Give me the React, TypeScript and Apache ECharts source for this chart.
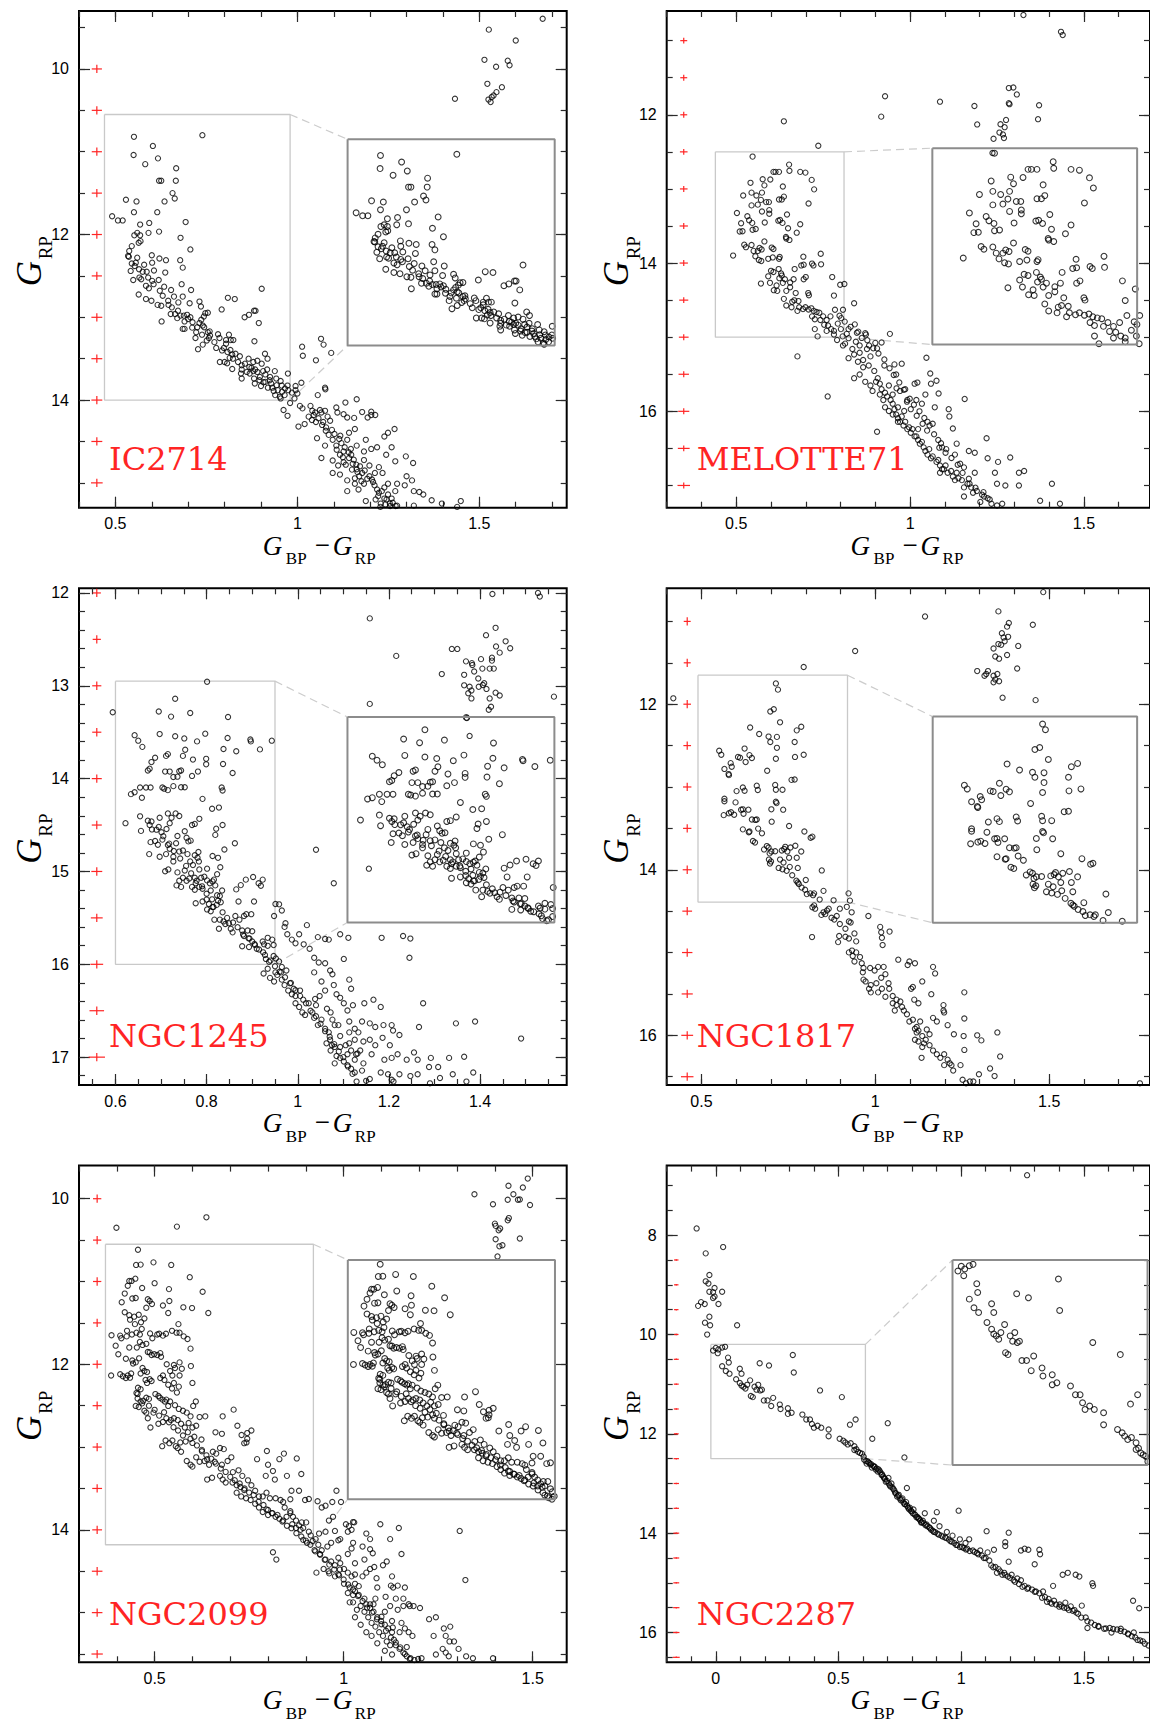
import React, { useEffect, useRef } from "react";
import * as echarts from "echarts";

type Pt = [number, number];

// ---------- cluster names ----------
const clusterNames = ["IC2714", "MELOTTE71", "NGC1245", "NGC1817", "NGC2099", "NGC2287"];

// ---------- axis ranges ----------
const xMin = [0.4, 0.3, 0.52, 0.4, 0.3, -0.2];
const xMax = [1.74, 1.69, 1.59, 1.79, 1.59, 1.77];
const yMin = [9.3, 10.6, 11.95, 10.6, 9.6, 6.6];
const yMax = [15.3, 17.3, 17.3, 16.6, 15.6, 16.6];

// ---------- tick labels (major) and minor tick steps ----------
const xMajor = [[0.5, 1, 1.5], [0.5, 1, 1.5], [0.6, 0.8, 1, 1.2, 1.4], [0.5, 1, 1.5], [0.5, 1, 1.5], [0, 0.5, 1, 1.5]];
const yMajor = [[10, 12, 14], [12, 14, 16], [12, 13, 14, 15, 16, 17], [12, 14, 16], [10, 12, 14], [8, 10, 12, 14, 16]];
const xMinorStep = [0.1, 0.1, 0.05, 0.1, 0.1, 0.1];
const yMinorStep = [0.5, 0.5, 0.2, 0.5, 0.5, 0.5];

// ---------- zoom rectangles [x0, x1, y0, y1] and inset boxes (main-plot data coords) ----------
const zoomRects = [
  [0.47, 0.98, 10.55, 14.0],
  [0.44, 0.81, 12.5, 15.0],
  [0.6, 0.95, 12.95, 16.0],
  [0.49, 0.92, 11.65, 14.39],
  [0.37, 0.92, 10.55, 14.18],
  [-0.02, 0.61, 10.2, 12.5],
];
const insetBoxes = [
  [1.138, 1.707, 10.85, 13.34],
  [1.064, 1.653, 12.45, 15.1],
  [1.109, 1.563, 13.336, 15.55],
  [1.165, 1.753, 12.15, 14.64],
  [1.011, 1.559, 10.74, 13.63],
  [0.965, 1.76, 8.5, 12.63],
];

// ---------- photometric error bars ----------
const errColorPos = [0.449, 0.349, 0.559, 0.459, 0.348, -0.161];
const errMags = [
  [10, 10.5, 11, 11.5, 12, 12.5, 13, 13.5, 14, 14.5, 15],
  [11, 11.5, 12, 12.5, 13, 13.5, 14, 14.5, 15, 15.5, 16, 16.5, 17],
  [12, 12.5, 13, 13.5, 14, 14.5, 15, 15.5, 16, 16.5, 17],
  [11, 11.5, 12, 12.5, 13, 13.5, 14, 14.5, 15, 15.5, 16, 16.5],
  [10, 10.5, 11, 11.5, 12, 12.5, 13, 13.5, 14, 14.5, 15, 15.5],
  [8.5, 9, 9.5, 10, 10.5, 11, 11.5, 12, 12.5, 13, 13.5, 14, 14.5, 15, 15.5, 16, 16.5],
];
const errColor = [
  [0.014, 0.014, 0.014, 0.014, 0.014, 0.014, 0.015, 0.015, 0.015, 0.015, 0.016],
  [0.01, 0.01, 0.01, 0.011, 0.011, 0.012, 0.012, 0.013, 0.014, 0.015, 0.016, 0.017, 0.018],
  [0.009, 0.009, 0.01, 0.01, 0.011, 0.011, 0.012, 0.013, 0.014, 0.016, 0.018],
  [0.01, 0.01, 0.011, 0.011, 0.012, 0.012, 0.013, 0.014, 0.015, 0.016, 0.017, 0.018],
  [0.011, 0.011, 0.011, 0.011, 0.012, 0.012, 0.012, 0.013, 0.013, 0.014, 0.014, 0.015],
  [0.009, 0.009, 0.009, 0.009, 0.01, 0.01, 0.01, 0.01, 0.011, 0.011, 0.011, 0.012, 0.012, 0.012, 0.013, 0.013, 0.014],
];
const errMagHalf = [0.05, 0.04, 0.045, 0.05, 0.05, 0.015];

// ---------- CMD data: [G_BP - G_RP, G_RP] ----------
const ic2714: Pt[] = [
  [1.526,9.525],[1.6,9.657],[1.674,9.393],[1.514,9.89],[1.578,9.9],[1.583,9.956],[1.546,9.974],[1.522,10.18],[1.562,10.22],[1.547,10.28],[1.539,10.32],[1.534,10.34],[1.525,10.37],[1.531,10.4],[1.433,10.36],
  [0.551,10.82],[0.739,10.8],[0.603,10.93],[0.55,11.04],[0.617,11.08],[0.582,11.15],[0.667,11.2],[0.62,11.35],[0.626,11.35],[0.666,11.35],[0.657,11.5],[0.663,11.565],[0.635,11.6],[0.529,11.58],[0.558,11.6],[0.551,11.73],[0.615,11.73],[0.491,11.78],[0.507,11.83],[0.52,11.83],[0.568,11.88],[0.593,11.86],[0.693,11.85],[0.62,11.965],[0.591,11.98],[0.56,11.98],[0.568,12.01],[0.552,12.01],[0.569,12.08],[0.564,12.1],[0.679,12.04],[0.545,12.14],[0.706,12.18],[0.538,12.2],[0.535,12.26],[0.537,12.27],[0.56,12.28],[0.6,12.25],[0.621,12.29],[0.639,12.31],[0.678,12.31],[0.545,12.35],[0.556,12.34],[0.579,12.365],[0.601,12.34],[0.685,12.4],[0.542,12.44],[0.586,12.45],[0.606,12.435],[0.637,12.46],[0.549,12.55],[0.566,12.52],[0.571,12.54],[0.601,12.56],[0.619,12.55],[0.682,12.6],[0.584,12.62],[0.592,12.65],[0.634,12.63],[0.708,12.67],[0.564,12.725],[0.653,12.67],[0.661,12.75],[0.685,12.75],[0.584,12.78],[0.599,12.8],[0.616,12.85],[0.626,12.86],[0.646,12.85],[0.673,12.82],[0.704,12.83],[0.731,12.81],[0.735,12.87],[0.902,12.655],[0.809,12.765],[0.828,12.78],[0.792,12.905],[0.881,12.92],[0.885,12.92],[0.652,12.96],[0.664,12.96],[0.679,12.98],[0.697,12.97],[0.706,13.0],[0.67,13.01],[0.69,13.05],[0.627,13.05],[0.747,12.95],[0.743,12.99],[0.754,12.945],[0.736,13.03],[0.855,13.0],[0.867,12.97],[0.894,13.07],[0.685,13.14],[0.69,13.14],[0.711,13.125],[0.731,13.07],[0.74,13.1],[0.744,13.12],[0.722,13.18],[0.72,13.25],[0.738,13.21],[0.754,13.18],[0.759,13.17],[0.782,13.205],[0.812,13.21],[0.804,13.275],[0.817,13.275],[0.824,13.275],[0.727,13.385],[0.74,13.33],[0.751,13.28],[0.757,13.25],[0.882,13.29],[0.777,13.37],[0.804,13.32],[0.793,13.4],[0.816,13.395],[0.821,13.45],[0.814,13.49],[0.807,13.555],[0.823,13.5],[0.787,13.54],[0.8,13.54],[0.911,13.44],[0.918,13.5],[0.837,13.54],[0.847,13.58],[0.866,13.5],[0.879,13.54],[0.89,13.525],[0.874,13.61],[0.902,13.56],[0.821,13.625],[0.847,13.63],[0.861,13.66],[0.869,13.68],[0.879,13.65],[0.89,13.66],[0.906,13.65],[0.917,13.63],[0.938,13.65],[0.845,13.68],[0.847,13.74],[0.881,13.74],[0.897,13.72],[0.912,13.69],[0.925,13.72],[0.942,13.74],[0.974,13.68],[0.883,13.8],[0.907,13.785],[0.924,13.76],[0.954,13.77],[0.957,13.825],[0.973,13.825],[0.9,13.83],[0.931,13.85],[0.935,13.89],[0.919,13.85],[0.946,13.88],[0.975,13.88],[0.965,13.94],[0.995,13.88],
  [0.76,13.22],[0.772,13.3],[0.786,13.25],[0.798,13.37],[0.808,13.42],[0.83,13.44],[0.842,13.47],[0.856,13.56],[0.868,13.6],[0.884,13.63],[0.896,13.76],[0.912,13.78],[0.928,13.8],[0.943,13.82],[0.958,13.9],[0.966,13.86],[0.952,13.96],[0.939,13.94],
  [0.575,12.45],[0.59,12.52],[0.605,12.6],[0.622,12.68],[0.63,12.74],[0.645,12.8],[0.655,12.88],[0.672,12.92],[0.688,12.98],[0.7,13.02],[0.712,13.06],[0.725,13.12],[0.553,12.38],[0.565,12.42],
  [1.013,13.355],[1.015,13.465],[1.065,13.26],[1.072,13.33],[1.093,13.43],[1.051,13.52],[1.011,13.79],[0.995,13.83],[0.985,13.91],[1.0,13.92],[0.954,13.98],[0.962,14.12],[0.973,14.19],[0.98,14.035],[0.992,13.98],[1.007,14.07],[1.014,14.1],[1.003,14.32],[1.02,14.29],[1.056,13.94],[1.076,13.85],[1.077,13.87],[1.036,14.07],[1.041,14.13],[1.049,14.15],[1.066,14.15],[1.076,14.13],[1.107,14.09],[1.132,14.03],[1.163,13.99],[1.11,14.15],[1.127,14.17],[1.137,14.21],[1.156,14.215],[1.178,14.145],[1.203,14.14],[1.214,14.18],[1.193,14.21],[1.051,14.265],[1.071,14.265],[1.031,14.2],[1.054,14.46],[1.078,14.37],[1.086,14.42],[1.097,14.48],[1.107,14.55],[1.076,14.55],[1.066,14.7],[1.097,14.73],[1.117,14.66],[1.127,14.62],[1.137,14.48],[1.147,14.59],[1.163,14.55],[1.097,14.88],[1.112,14.79],[1.127,14.75],[1.142,14.7],[1.152,14.77],[1.163,14.835],[1.178,14.88],[1.198,14.92],[1.213,14.88],[1.117,14.9],[1.137,14.97],[1.158,15.01],[1.168,15.08],[1.183,15.01],[1.208,14.99],[1.219,15.08],[1.239,15.055],[1.249,15.14],[1.259,15.19],[1.269,15.1],[1.274,15.01],[1.295,15.03],[1.3,14.92],[1.315,14.97],[1.318,14.76],[1.298,14.68],[1.269,14.74],[1.259,14.57],[1.244,14.66],[1.239,14.44],[1.219,14.57],[1.249,14.395],[1.267,14.35],[1.203,14.59],[1.188,15.22],[1.229,15.25],[1.239,15.19],[1.254,15.25],[1.274,15.275],[1.32,15.1],[1.335,15.11],[1.346,15.14],[1.369,15.21],[1.397,15.25],[1.449,15.22],[1.439,15.29],[1.32,15.275],[1.137,15.1],[1.158,14.945],[1.198,14.79],[1.224,14.81],[1.234,14.88],[1.183,14.725],[1.203,14.18],[1.224,15.12],[1.249,15.01],[1.183,14.62],[1.188,14.48],[1.158,14.35],[1.142,14.395],
  [1.045,14.18],[1.058,14.22],[1.062,14.12],[1.083,14.2],[1.09,14.25],[1.068,14.3],[1.079,14.33],[1.095,14.36],[1.04,14.24],[1.102,14.41],[1.115,14.47],[1.121,14.52],[1.108,14.6],[1.13,14.57],[1.141,14.63],[1.125,14.69],[1.148,14.66],[1.118,14.43],[1.133,14.78],[1.155,14.72],[1.162,14.78],[1.172,14.8],[1.17,14.92],[1.185,14.85],[1.192,14.95],[1.176,14.98],[1.205,14.96],[1.15,14.84],[1.165,14.87],[1.212,15.03],[1.222,15.16],[1.232,15.1],[1.245,15.2],[1.255,15.28],[1.262,15.24],[1.215,15.2],[1.228,15.29],[1.27,15.28],[1.242,15.26],
];

const melotte71: Pt[] = [
  [1.326,10.655],[1.434,10.881],[1.439,10.925],[0.928,11.75],[1.086,11.823],[1.185,11.882],[1.284,11.64],[1.297,11.632],[1.307,11.725],[1.284,11.843],[1.286,11.857],[1.371,11.872],[0.917,12.025],[1.193,12.13],[1.276,12.069],[1.26,12.127],[1.272,12.167],[1.257,12.24],[1.267,12.265],[1.27,12.314],[1.24,12.324],[1.368,12.059],[1.237,12.515],[0.637,12.088],[0.736,12.417],
  [0.547,12.564],[0.652,12.672],[0.613,12.77],[0.607,12.77],[0.623,12.77],[0.684,12.77],[0.699,12.78],[0.653,12.756],[0.598,12.873],[0.541,12.918],[0.576,12.869],[0.581,12.952],[0.717,12.878],[0.634,12.967],[0.724,13.006],[0.52,13.089],[0.544,13.05],[0.574,13.05],[0.558,13.089],[0.571,13.148],[0.586,13.178],[0.623,13.143],[0.631,13.143],[0.637,13.104],[0.708,13.197],[0.544,13.222],[0.562,13.212],[0.594,13.178],[0.502,13.325],[0.574,13.305],[0.595,13.286],[0.595,13.335],[0.646,13.345],[0.532,13.369],[0.537,13.423],[0.514,13.463],[0.546,13.458],[0.582,13.453],[0.621,13.428],[0.626,13.418],[0.633,13.458],[0.684,13.477],[0.51,13.575],[0.518,13.571],[0.547,13.551],[0.556,13.541],[0.649,13.531],[0.674,13.59],[0.643,13.649],[0.644,13.669],[0.653,13.688],[0.523,13.752],[0.528,13.786],[0.544,13.757],[0.581,13.708],[0.55,13.836],[0.555,13.909],[0.562,13.836],[0.567,13.796],[0.573,13.816],[0.602,13.791],[0.607,13.811],[0.491,13.899],[0.565,13.958],[0.572,13.973],[0.592,13.943],[0.605,13.924],[0.623,13.943],[0.625,13.919],[0.693,13.914],[0.718,14.007],[0.722,14.032],[0.687,14.032],[0.694,14.022],[0.743,13.875],[0.744,14.017],[0.6,14.105],[0.592,14.179],[0.607,14.12],[0.622,14.081],[0.629,14.14],[0.631,14.169],[0.624,14.204],[0.64,14.218],[0.668,14.081],[0.571,14.277],[0.597,14.267],[0.616,14.302],[0.634,14.267],[0.655,14.263],[0.665,14.218],[0.694,14.218],[0.7,14.189],[0.608,14.366],[0.618,14.375],[0.644,14.375],[0.655,14.326],[0.671,14.405],[0.707,14.405],[0.709,14.434],[0.776,14.189],[0.799,14.292],[0.811,14.282],[0.781,14.439],[0.637,14.483],[0.661,14.523],[0.667,14.503],[0.679,14.513],[0.644,14.572],[0.659,14.596],[0.681,14.596],[0.692,14.621],[0.699,14.596],[0.708,14.626],[0.716,14.611],[0.723,14.645],[0.731,14.66],[0.676,14.645],[0.718,14.719],[0.726,14.758],[0.742,14.768],[0.753,14.832],[0.764,14.842],[0.773,14.891],[0.726,14.891],[0.734,14.989],[0.76,14.915],[0.781,14.915],[0.802,14.743],[0.807,14.63],[0.839,14.542],[0.801,14.891],[0.818,14.955],[0.806,14.989],
  [0.841,14.827],[0.851,14.925],[0.871,14.945],[0.873,14.964],[0.9,15.077],[0.918,15.072],[0.905,15.151],[0.942,14.955],[0.882,15.111],[0.79,15.038],[0.807,15.111],[0.834,15.16],[0.839,15.234],[0.855,15.21],[0.823,15.283],[0.85,15.332],[0.865,15.406],[0.839,15.553],[0.855,15.504],[0.871,15.602],[0.886,15.651],[0.892,15.725],[0.907,15.553],[0.913,15.774],[0.923,15.848],[0.928,15.946],[0.939,15.995],[0.95,15.897],[0.96,16.044],[0.971,16.142],[0.981,16.191],[0.992,16.24],[1.002,16.289],[1.018,16.338],[1.028,16.436],[1.039,16.486],[1.05,16.584],[1.06,16.633],[1.076,16.682],[1.086,16.731],[1.097,16.78],[1.108,16.829],[1.123,16.879],[1.134,16.829],[1.149,16.928],[1.165,16.977],[1.176,17.026],[1.192,17.075],[1.207,17.124],[1.223,17.173],[1.234,17.246],[1.25,17.271],[1.265,17.246],[1.202,17.222],
  [0.865,15.308],[0.881,15.382],[0.897,15.455],[0.902,15.602],[0.918,15.701],[0.934,15.799],[0.944,15.848],[0.955,15.971],[0.965,15.946],[0.976,16.069],[0.986,16.142],[0.997,16.216],[1.007,16.24],[1.013,16.338],[1.023,16.387],[1.034,16.412],[1.044,16.535],[1.055,16.51],[1.065,16.608],[1.081,16.657],[1.092,16.78],[1.102,16.731],[1.118,16.805],[1.129,16.928],[1.139,16.903],[1.155,17.026],[1.171,16.977],[1.181,17.099],[1.213,17.149],[0.939,15.651],[0.928,15.75],[0.95,16.044],[0.965,16.142],[0.771,14.719],[0.792,14.817],[0.76,14.768],[0.75,14.719],[0.739,14.67],[0.823,15.013],[0.844,15.062],[0.813,15.087],[0.781,14.964],[0.855,15.111],[0.876,15.16],[0.886,15.259],[0.823,14.891],
  [0.784,14.63],[0.797,14.71],[0.812,14.79],[0.829,14.86],[0.847,14.94],[0.861,15.01],[0.877,15.04],[0.894,15.15],[0.909,15.22],[0.926,15.3],[0.941,15.42],[0.953,15.51],[0.969,15.61],[0.982,15.71],[0.999,15.83],[1.011,15.91],[1.027,16.0],[1.041,16.09],[1.056,16.19],[1.069,16.31],[1.089,16.43],[1.104,16.51],[1.119,16.63],[1.137,16.72],[1.151,16.83],[1.169,16.91],[1.188,17.03],[1.211,17.09],[1.229,17.19],[0.961,15.69],[0.991,15.87],[1.019,16.06],[1.049,16.26],[1.084,16.49],
  [0.676,15.259],[0.763,15.799],[0.905,16.275],[0.926,15.382],[0.955,15.367],[0.976,15.357],[0.96,15.504],[0.913,15.627],[0.95,15.774],[0.971,15.725],[0.986,15.701],[1.013,15.627],[1.021,15.612],[1.044,15.774],[1.06,15.627],[1.076,15.588],[1.082,15.759],[1.047,15.278],[1.058,15.49],[1.071,15.946],[1.111,15.971],[1.113,16.069],[1.123,16.231],[1.157,15.833],[1.034,15.897],[1.018,15.848],[0.992,15.848],[1.134,16.436],[1.169,16.535],[1.186,16.559],[1.22,16.363],[1.223,16.633],[1.253,16.682],[1.288,16.623],[1.313,16.829],[1.328,16.805],[1.244,16.829],[1.186,16.829],[1.25,16.977],[1.274,17.0],[1.313,17.0],[1.374,17.207],[1.408,16.977],[1.431,17.246],[1.155,17.149],[1.081,16.387],[1.065,16.167],[1.036,16.167],[1.002,15.971],[0.983,15.995],[0.965,16.093],[1.023,16.24],[1.05,16.142],[1.092,16.486],[1.102,16.559],[1.144,16.707],[1.155,16.756],[1.129,16.584],[1.086,16.829],
];

const ngc1245: Pt[] = [
  [1.527,12.0],[1.531,12.039],[1.427,12.012],[1.158,12.274],[1.216,12.678],[1.413,12.455],[1.434,12.376],[1.456,12.521],[1.466,12.596],[1.435,12.576],[1.443,12.643],[1.338,12.603],[1.35,12.603],[1.369,12.737],[1.382,12.756],[1.383,12.776],[1.402,12.713],[1.387,12.846],[1.405,12.815],[1.426,12.697],[1.426,12.729],[1.421,12.815],[1.43,12.815],[1.316,12.874],[1.365,12.882],[1.365,12.995],[1.377,13.011],[1.381,13.05],[1.374,13.081],[1.381,13.136],[1.397,13.011],[1.406,12.991],[1.396,12.921],[1.409,12.972],[1.414,13.034],[1.421,13.136],[1.443,13.105],[1.434,13.074],[1.424,13.226],[1.419,13.258],[1.371,13.348],[1.562,13.117],[1.158,13.195],[1.377,13.54],[0.801,12.956],
  [0.594,13.285],[0.695,13.277],[0.722,13.332],[0.731,13.14],[0.764,13.293],[0.847,13.336],[0.642,13.532],[0.65,13.591],[0.659,13.658],[0.697,13.52],[0.731,13.544],[0.751,13.567],[0.797,13.516],[0.779,13.599],[0.846,13.563],[0.896,13.579],[0.897,13.599],[0.943,13.591],[0.917,13.685],[0.865,13.705],[0.837,13.681],[0.753,13.689],[0.748,13.755],[0.77,13.795],[0.679,13.822],[0.687,13.775],[0.711,13.755],[0.715,13.736],[0.799,13.787],[0.799,13.846],[0.836,13.842],[0.857,13.94],[0.709,13.924],[0.719,13.924],[0.744,13.912],[0.675,13.893],[0.671,13.912],[0.736,13.979],[0.74,13.92],[0.727,13.983],[0.768,13.971],[0.781,13.924],[0.654,14.096],[0.667,14.096],[0.677,14.096],[0.634,14.167],[0.642,14.147],[0.658,14.206],[0.703,14.096],[0.707,14.108],[0.715,14.124],[0.727,14.081],[0.744,14.093],[0.752,14.093],[0.833,14.096],[0.835,14.128],[0.791,14.218],[0.827,14.312],[0.835,14.5],[0.812,14.324],[0.622,14.48],[0.654,14.406],[0.671,14.453],[0.679,14.461],[0.697,14.422],[0.715,14.375],[0.723,14.422],[0.732,14.375],[0.74,14.402],[0.719,14.48],[0.768,14.5],[0.774,14.488],[0.784,14.433],[0.821,14.539],[0.819,14.606],[0.862,14.696],[0.839,14.763],[0.656,14.563],[0.68,14.547],[0.695,14.52],[0.701,14.578],[0.712,14.543],[0.736,14.618],[0.752,14.567],[0.756,14.637],[0.687,14.672],[0.677,14.684],[0.693,14.712],[0.703,14.657],[0.715,14.716],[0.719,14.755],[0.733,14.696],[0.74,14.786],[0.748,14.774],[0.76,14.676],[0.765,14.668],[0.774,14.825],[0.782,14.79],[0.674,14.813],[0.697,14.841],[0.711,14.813],[0.727,14.892],[0.727,14.841],[0.758,14.813],[0.764,14.892],[0.77,14.931],[0.78,14.853],[0.783,14.892],[0.784,14.978],[0.801,14.97],[0.813,14.833],[0.825,14.853],[0.83,14.955],[0.709,14.998],[0.716,14.978],[0.736,15.01],[0.752,14.99],[0.748,15.068],[0.74,15.1],[0.756,15.1],[0.762,15.076],[0.774,15.068],[0.776,15.127],[0.788,15.068],[0.784,15.166],[0.795,15.056],[0.801,15.096],[0.816,15.088],[0.823,15.029],[0.813,15.107],[0.734,15.15],[0.744,15.166],[0.768,15.166],[0.774,15.197],[0.791,15.186],[0.807,15.127],[0.809,15.205],[0.819,15.15],[0.823,15.256],[0.834,15.205],[0.829,15.264],[0.865,15.193],[0.875,15.147],[0.886,15.088],[0.902,15.06],[0.923,15.088],[0.914,15.127],[0.919,15.154],[0.776,15.342],[0.791,15.323],[0.8,15.303],[0.805,15.35],[0.813,15.382],[0.825,15.315],[0.831,15.331],[0.801,15.409],[0.809,15.429],[0.815,15.382],[0.817,15.519],[0.829,15.519],[0.837,15.538],[0.827,15.617],[0.841,15.566],[0.849,15.558],[0.853,15.617],[0.857,15.656],[0.87,15.323],[0.904,15.323],[0.863,15.48],[0.872,15.519],[0.882,15.48],[0.887,15.46],[0.898,15.46],[0.878,15.636],[0.89,15.636],[0.9,15.644],[0.882,15.695],[0.878,15.805],[0.894,15.723],[0.9,15.754],[0.906,15.793],[0.893,15.813],[0.91,15.832],[0.923,15.754],[0.926,15.785],[0.934,15.801],[0.934,15.715],[0.944,15.734],[0.948,15.48],[0.951,15.35],[0.959,15.354],[0.965,15.421],[0.973,15.558],[0.947,15.793],
  [0.705,14.62],[0.718,14.7],[0.728,14.78],[0.742,14.86],[0.755,14.94],[0.766,15.02],[0.778,15.1],[0.79,15.16],[0.8,15.24],[0.812,15.3],[0.822,15.36],[0.835,15.44],[0.845,15.5],[0.858,15.55],[0.868,15.6],[0.88,15.68],[0.892,15.72],[0.905,15.78],[0.915,15.84],[0.928,15.9],[0.94,15.96],[0.95,16.02],[0.96,16.08],[0.972,16.14],[0.985,16.2],[0.995,16.28],[1.005,16.34],[1.018,16.42],[1.028,16.5],[1.04,16.56],[1.05,16.64],[1.06,16.72],[1.07,16.78],[1.08,16.86],[1.09,16.94],[1.1,17.0],[1.11,17.1],[1.12,17.18],[0.69,14.55],[0.675,14.5],
  [0.924,15.871],[0.93,15.942],[0.937,15.973],[0.947,15.911],[0.952,15.938],[0.959,15.969],[0.965,16.028],[0.975,16.067],[0.963,16.087],[0.951,16.087],[0.934,16.048],[0.925,16.099],[0.939,16.146],[0.948,16.185],[0.955,16.114],[0.965,16.165],[0.971,16.224],[0.983,16.204],[0.991,16.263],[0.979,16.283],[0.987,16.322],[0.995,16.342],[1.005,16.283],[1.012,16.381],[0.995,16.42],[1.003,16.459],[1.01,16.518],[1.016,16.545],[1.024,16.42],[1.032,16.518],[1.036,16.577],[1.044,16.655],[1.052,16.596],[1.06,16.694],[1.068,16.733],[1.071,16.812],[1.063,16.851],[1.075,16.871],[1.072,16.929],[1.081,16.89],[1.085,16.988],[1.081,17.067],[1.093,17.008],[1.101,17.047],[1.109,17.086],[1.117,17.125],[1.125,17.027],[1.125,17.165],[1.129,17.263],[1.15,17.255],[1.158,17.235],[1.162,16.969],[1.206,17.243],[1.21,17.263],[1.182,17.165],[1.198,17.184],[1.223,17.184],[1.247,17.204],[1.263,17.184],[1.29,17.282],[1.312,17.224],[1.34,17.184],[1.385,17.165],[1.37,17.263],[1.288,17.106],[1.308,17.106],[1.365,16.996],[1.332,17.008],[1.292,17.008],[1.263,17.027],[1.239,17.027],[1.206,17.008],[1.19,17.027],[1.219,16.969],[1.223,16.761],[1.209,16.714],[1.202,16.871],[1.186,16.792],[1.17,16.871],[1.158,16.812],[1.144,16.831],[1.137,16.929],[1.141,16.616],[1.133,16.733],[1.125,16.694],[1.113,16.616],[1.109,16.498],[1.101,16.42],[1.093,16.361],[1.085,16.322],[1.079,16.224],[1.076,16.107],[1.071,16.067],[1.06,15.989],[1.046,15.981],[1.036,15.93],[1.026,15.832],[1.013,15.785],[0.995,15.774],[0.987,15.734],[0.971,15.597],[0.977,15.676],[1.003,15.676],[1.02,15.578],[1.044,15.707],[1.06,15.727],[1.068,15.734],[1.093,15.676],[1.101,15.942],[1.111,15.715],[1.113,16.165],[1.117,16.263],[1.121,16.44],[1.146,16.42],[1.166,16.381],[1.182,16.459],[1.188,16.655],[1.206,16.655],[1.17,16.675],[1.158,16.636],[1.231,15.695],[1.245,15.93],[1.275,16.42],[1.266,16.675],[1.347,16.636],[1.389,16.616],[1.49,16.8],[1.389,17.302],[1.255,16.949],[1.036,16.087],[1.052,16.185],[1.06,16.283],[1.04,16.44],[1.038,16.373],[1.048,16.342],[1.064,16.479],[1.072,16.518],[1.076,16.596],[1.081,16.655],[1.089,16.655],[1.093,16.773],[1.113,16.733],[1.125,16.812],[1.113,16.851],[1.105,16.871],[1.117,16.929],[1.128,16.969],[1.144,17.067],[1.141,17.145],[1.109,16.969],[1.093,16.89],[1.184,15.715],[1.247,15.723],[1.079,15.127],[1.04,14.766],[1.156,14.97],[1.131,16.961],
];

const ngc1817: Pt[] = [
  [1.483,10.646],[1.143,10.94],[0.942,11.358],[0.794,11.551],[0.419,11.929],[1.354,10.879],[1.384,11.019],[1.379,11.063],[1.364,11.142],[1.369,11.195],[1.382,11.186],[1.354,11.274],[1.362,11.283],[1.34,11.327],[1.372,11.239],[1.345,11.424],[1.356,11.45],[1.379,11.406],[1.411,11.296],[1.408,11.569],[1.293,11.6],[1.324,11.6],[1.314,11.657],[1.319,11.635],[1.34,11.657],[1.351,11.635],[1.345,11.701],[1.356,11.723],[1.34,11.736],[1.366,11.921],[1.461,11.951],[1.453,11.041],
  [0.714,11.749],[0.72,11.824],[0.698,12.088],[0.708,12.061],[0.726,12.219],[0.64,12.281],[0.666,12.36],[0.693,12.391],[0.717,12.395],[0.698,12.457],[0.717,12.527],[0.774,12.316],[0.787,12.272],[0.768,12.457],[0.769,12.637],[0.794,12.611],[0.551,12.562],[0.557,12.611],[0.624,12.536],[0.638,12.615],[0.645,12.65],[0.627,12.699],[0.605,12.637],[0.611,12.646],[0.584,12.712],[0.587,12.756],[0.566,12.782],[0.578,12.844],[0.579,12.857],[0.714,12.659],[0.689,12.804],[0.759,12.914],[0.768,12.909],[0.659,12.984],[0.662,13.037],[0.619,13.006],[0.624,13.046],[0.601,13.05],[0.712,12.975],[0.714,13.033],[0.733,13.033],[0.566,13.142],[0.566,13.173],[0.598,13.186],[0.585,13.305],[0.579,13.318],[0.564,13.34],[0.594,13.336],[0.614,13.274],[0.621,13.323],[0.619,13.27],[0.635,13.274],[0.714,13.178],[0.716,13.195],[0.701,13.27],[0.735,13.274],[0.645,13.393],[0.655,13.398],[0.659,13.393],[0.702,13.419],[0.619,13.512],[0.638,13.538],[0.663,13.503],[0.674,13.56],[0.636,13.547],[0.752,13.472],[0.796,13.538],[0.814,13.613],[0.819,13.6],[0.648,13.652],[0.654,13.67],[0.68,13.754],[0.688,13.714],[0.693,13.731],[0.696,13.802],[0.701,13.78],[0.712,13.776],[0.731,13.767],[0.738,13.749],[0.747,13.78],[0.741,13.723],[0.756,13.731],[0.77,13.71],[0.774,13.855],[0.787,13.78],[0.694,13.877],[0.7,13.899],[0.697,13.925],[0.726,13.877],[0.736,13.912],[0.752,13.855],[0.722,13.978],[0.733,13.995],[0.745,14.013],[0.754,13.965],[0.777,13.978],[0.761,14.066],[0.773,14.132],[0.777,14.154],[0.78,14.171],[0.8,14.123],[0.788,14.215],[0.798,14.241],[0.813,14.285],[0.824,14.285],[0.803,14.294],[0.821,14.307],[0.846,14.008],[0.851,14.255],[0.84,14.36],
  [0.88,14.369],[0.898,14.47],[0.918,14.448],[0.923,14.285],[0.927,14.373],[0.932,14.514],[0.819,14.453],[0.824,14.43],[0.827,14.47],[0.845,14.545],[0.851,14.514],[0.856,14.536],[0.861,14.492],[0.866,14.47],[0.874,14.58],[0.882,14.602],[0.889,14.558],[0.898,14.655],[0.914,14.712],[0.924,14.624],[0.929,14.637],[0.94,14.769],[0.945,14.865],[0.914,14.809],[0.924,14.83],[0.896,14.8],[0.893,14.874],[0.933,14.976],[0.924,14.998],[0.935,15.042],[0.945,14.998],[0.94,15.108],[0.956,15.055],[0.961,15.129],[0.966,15.186],[0.964,15.239],[0.966,15.327],[0.972,15.349],[0.985,15.186],[0.998,15.217],[1.008,15.173],[1.024,15.173],[1.029,15.261],[1.017,15.305],[0.982,15.437],[0.987,15.481],[1.008,15.481],[1.019,15.437],[1.029,15.534],[1.04,15.437],[1.05,15.525],[1.061,15.569],[1.05,15.613],[1.056,15.701],[1.061,15.635],[1.072,15.591],[1.077,15.657],[1.082,15.701],[1.091,15.745],[1.098,15.833],[1.108,15.811],[1.114,15.921],[1.119,15.965],[1.124,15.943],[1.135,16.009],[1.114,16.053],[1.124,16.075],[1.135,16.141],[1.145,16.053],[1.14,16.097],[1.156,16.119],[1.166,16.184],[1.177,16.228],[1.187,16.272],[1.198,16.228],[1.208,16.294],[1.214,16.338],[1.219,16.36],[1.198,16.36],[1.224,16.426],[1.245,16.36],[1.251,16.536],[1.261,16.58],[1.282,16.558],[1.298,16.47],[1.272,16.558],[1.133,16.272],[1.119,15.899],[1.129,15.833],[1.148,15.93],[1.156,15.987],[1.166,15.789],[1.177,15.833],[1.198,15.723],[1.196,15.635],[1.196,15.701],[1.161,15.503],[1.135,15.349],[1.172,15.252],[1.166,15.173],[1.114,15.129],[1.093,15.151],[1.098,15.108],[1.066,15.086],[1.103,15.437],[1.108,15.415],[1.112,15.569],[1.124,15.613],[1.208,15.877],[1.226,15.987],[1.254,16.009],[1.256,15.797],[1.256,15.481],[1.293,16.0],[1.305,16.061],[1.33,16.4],[1.351,15.965],[1.359,16.255],[1.256,16.176],[1.017,14.756],[1.019,14.822],[1.021,14.91],[1.014,14.69],[1.041,14.747],[0.98,14.558],[0.818,14.813],[0.987,15.393],[1.003,15.371],[1.038,15.371],[0.989,16.615],[1.343,16.492],[1.761,16.58],
];

const ngc2099: Pt[] = [
  [0.399,10.351],[0.559,10.337],[0.637,10.225],[1.346,9.946],[1.436,9.843],[1.449,9.946],[1.474,9.865],[1.487,9.757],[1.461,10.013],[1.466,10.009],[1.434,10.013],[1.395,10.067],[1.493,10.076],[1.4,10.301],[1.402,10.328],[1.414,10.36],[1.41,10.382],[1.402,10.49],[1.42,10.562],[1.412,10.575],[1.434,10.261],[1.437,10.234],[1.466,10.481],[1.407,10.697],
  [0.456,10.616],[0.451,10.8],[0.463,10.796],[0.497,10.769],[0.544,10.8],[0.593,10.948],[0.439,10.993],[0.433,10.993],[0.449,10.966],[0.429,11.052],[0.5,11.02],[0.467,11.079],[0.421,11.146],[0.441,11.205],[0.45,11.2],[0.413,11.25],[0.482,11.214],[0.487,11.236],[0.493,11.272],[0.478,11.317],[0.522,11.29],[0.539,11.236],[0.538,11.092],[0.627,11.124],[0.642,11.38],[0.576,11.312],[0.599,11.321],[0.536,11.38],[0.421,11.371],[0.433,11.407],[0.446,11.425],[0.458,11.402],[0.464,11.492],[0.448,11.515],[0.435,11.461],[0.473,11.447],[0.427,11.596],[0.426,11.663],[0.44,11.64],[0.452,11.618],[0.461,11.64],[0.466,11.573],[0.386,11.649],[0.409,11.654],[0.412,11.685],[0.488,11.627],[0.494,11.685],[0.507,11.64],[0.512,11.631],[0.522,11.654],[0.53,11.631],[0.546,11.596],[0.563,11.515],[0.558,11.618],[0.566,11.618],[0.577,11.663],[0.587,11.694],[0.478,11.753],[0.461,11.73],[0.468,11.766],[0.453,11.798],[0.397,11.775],[0.404,11.879],[0.433,11.798],[0.424,11.933],[0.441,11.955],[0.443,11.991],[0.45,11.977],[0.459,11.928],[0.468,12.045],[0.482,11.852],[0.487,11.856],[0.492,11.888],[0.499,11.879],[0.507,11.888],[0.515,11.865],[0.517,11.91],[0.532,12.0],[0.541,12.081],[0.551,12.009],[0.554,12.045],[0.566,11.977],[0.595,11.811],[0.596,12.022],[0.572,12.054],[0.566,12.135],[0.547,12.135],[0.522,12.135],[0.6,12.225],[0.551,12.225],[0.385,12.135],[0.409,12.121],[0.416,12.144],[0.429,12.135],[0.438,12.112],[0.424,12.166],[0.435,12.162],[0.463,12.112],[0.473,12.081],[0.48,12.094],[0.476,12.189],[0.48,12.225],[0.487,12.18],[0.492,12.202],[0.515,12.166],[0.526,12.189],[0.536,12.247],[0.546,12.292],[0.559,12.342],[0.564,12.27],[0.456,12.283],[0.463,12.301],[0.452,12.346],[0.455,12.413],[0.463,12.449],[0.478,12.405],[0.485,12.418],[0.502,12.36],[0.51,12.382],[0.514,12.405],[0.521,12.427],[0.527,12.449],[0.531,12.427],[0.541,12.449],[0.536,12.503],[0.554,12.494],[0.564,12.539],[0.575,12.562],[0.585,12.584],[0.595,12.629],[0.602,12.503],[0.609,12.449],[0.45,12.503],[0.458,12.517],[0.467,12.472],[0.473,12.562],[0.478,12.584],[0.482,12.652],[0.497,12.584],[0.489,12.764],[0.51,12.719],[0.522,12.697],[0.531,12.652],[0.543,12.674],[0.551,12.652],[0.561,12.674],[0.57,12.719],[0.58,12.764],[0.59,12.71],[0.6,12.764],[0.61,12.742],[0.619,12.638],[0.634,12.629],[0.68,12.629],[0.709,12.548],[0.719,12.742],[0.756,12.8],[0.745,12.831],[0.73,12.854],[0.678,12.84],[0.661,12.822],[0.52,12.989],[0.529,12.921],[0.539,12.953],[0.547,12.921],[0.556,12.989],[0.561,13.011],[0.568,12.944],[0.582,12.934],[0.595,12.899],[0.605,12.876],[0.624,12.908],[0.625,13.034],[0.57,13.056],[0.585,13.169],[0.595,13.213],[0.6,13.236],[0.61,13.124],[0.619,13.178],[0.632,13.169],[0.639,13.146],[0.644,13.213],[0.654,13.056],[0.663,13.079],[0.673,13.011],[0.683,13.025],[0.659,13.178],[0.678,13.213],[0.693,13.169],[0.703,13.124],[0.707,13.303],[0.722,13.281],[0.732,13.348],[0.745,12.899],[0.737,12.953],[0.743,12.944],[0.771,13.146],[0.797,13.047],[0.842,13.079],[0.876,13.137],[0.888,13.326],[0.8,13.213],[0.813,13.29],[0.83,13.146],[0.85,13.348],[0.818,13.393],[0.794,13.348],[0.639,13.393],[0.652,13.371],[0.673,13.348],[0.68,13.393],[0.688,13.429],[0.706,13.429],[0.717,13.461],[0.727,13.483],[0.737,13.519],[0.747,13.402],[0.756,13.461],[0.766,13.528],[0.776,13.596],[0.786,13.596],[0.796,13.551],[0.805,13.618],[0.82,13.618],[0.833,13.64],[0.84,13.663],[0.844,13.73],[0.717,13.551],[0.729,13.596],[0.742,13.618],[0.754,13.64],[0.766,13.685],[0.776,13.73],[0.786,13.784],[0.796,13.753],[0.8,13.82],[0.81,13.798],[0.82,13.843],[0.83,13.865],[0.84,13.888],[0.849,13.843],[0.859,13.775],[0.866,13.843],[0.874,13.888],[0.882,13.946],[0.889,13.91],[0.893,13.978],[0.901,13.91],[0.908,14.022],[0.874,13.978],[0.886,14.0],[0.864,13.933],[0.859,13.798],[0.913,14.067],[0.918,14.135],[0.903,14.157],[0.893,14.121],[0.813,14.27],[0.822,14.359],[0.862,13.528],[0.882,13.528],[0.898,13.64],[0.908,13.627],[0.859,13.631],
  [0.455,12.36],[0.47,12.44],[0.485,12.5],[0.5,12.55],[0.512,12.62],[0.525,12.58],[0.538,12.7],[0.55,12.76],[0.562,12.8],[0.575,12.86],[0.588,12.82],[0.6,12.95],[0.612,12.98],[0.625,13.05],[0.637,13.1],[0.65,13.14],[0.662,13.2],[0.675,13.26],[0.688,13.3],[0.7,13.36],[0.712,13.4],[0.725,13.44],[0.738,13.5],[0.75,13.55],[0.762,13.58],[0.775,13.66],[0.788,13.7],[0.8,13.76],[0.812,13.8],[0.825,13.82],[0.838,13.9],[0.85,13.95],[0.862,13.98],[0.875,14.04],[0.888,14.08],[0.9,14.13],[0.912,14.18],[0.925,14.26],[0.938,14.3],[0.95,14.36],[0.962,14.42],[0.975,14.48],[0.988,14.55],[1.0,14.6],[1.012,14.66],[1.025,14.72],[1.038,14.8],[1.05,14.86],[1.062,14.94],[1.075,15.0],[1.088,15.08],[1.1,15.14],[1.112,15.22],[1.125,15.3],[1.138,15.36],[1.15,15.42],[1.162,15.5],[1.175,15.56],[0.96,14.5],[0.99,14.48],[1.04,14.68],[1.07,14.9],[1.1,15.05],[1.13,15.18],
  [0.931,13.654],[0.942,13.73],[0.952,13.708],[0.97,13.663],[0.981,13.528],[0.993,13.663],[0.961,13.888],[0.972,13.843],[0.977,14.013],[0.952,14.022],[0.935,14.045],[0.926,14.112],[0.933,14.18],[0.923,14.247],[0.942,14.247],[0.957,14.202],[0.967,14.157],[0.986,14.126],[0.991,14.112],[1.006,13.933],[1.011,14.022],[1.021,14.0],[1.028,13.91],[1.025,14.157],[1.021,14.225],[1.05,14.202],[1.07,14.234],[0.937,14.292],[0.952,14.359],[0.967,14.382],[0.977,14.427],[0.991,14.404],[1.001,14.472],[1.011,14.517],[1.021,14.562],[1.03,14.539],[0.986,14.539],[0.977,14.562],[0.962,14.526],[0.947,14.472],[0.928,14.517],[1.001,14.652],[1.016,14.697],[1.03,14.742],[1.04,14.787],[1.055,14.831],[1.06,14.899],[1.07,14.944],[1.079,14.989],[1.089,15.056],[1.099,15.101],[1.109,15.146],[1.118,15.191],[1.128,15.236],[1.133,15.328],[1.138,15.393],[1.148,15.438],[1.158,15.483],[1.167,15.528],[1.177,15.551],[1.187,15.573],[1.197,15.56],[1.206,15.551],[1.011,14.764],[1.025,14.787],[1.045,14.921],[1.055,14.989],[1.065,15.056],[1.074,15.124],[1.084,15.169],[1.094,15.236],[1.104,15.281],[1.114,15.348],[1.123,15.393],[1.035,14.966],[1.025,14.876],[1.079,14.899],[1.084,14.831],[1.109,14.989],[1.123,14.921],[1.143,14.966],[1.153,15.124],[1.162,15.191],[1.172,15.236],[1.182,15.281],[1.167,15.416],[1.128,15.506],[1.109,15.461],[1.089,15.371],[1.074,15.281],[1.06,15.236],[1.045,15.146],[1.03,15.056],[1.016,14.876],[1.03,14.652],[1.05,14.562],[1.06,14.517],[1.07,14.472],[1.081,14.449],[1.087,14.584],[1.089,14.697],[1.104,14.427],[1.114,14.382],[1.128,14.562],[1.143,14.674],[1.158,14.831],[1.172,14.899],[1.185,14.921],[1.202,14.944],[1.226,15.079],[1.244,15.056],[1.265,15.191],[1.282,15.169],[1.28,15.348],[1.27,15.281],[1.292,15.348],[1.304,15.438],[1.324,15.528],[1.342,15.551],[1.395,15.551],[1.238,15.281],[1.244,15.506],[1.27,15.483],[1.278,15.528],[1.262,15.438],[1.158,14.921],[1.175,14.921],[1.111,14.809],[1.125,14.674],[1.131,14.697],[1.146,13.978],[1.123,14.112],[1.153,14.292],[1.307,14.013],[1.322,14.607],[1.097,13.933],[1.138,14.831],[1.162,14.697],[1.128,15.101],[1.148,15.236],[1.077,14.283],[1.055,14.359],[1.03,14.404],[1.011,14.292],[0.986,14.337],[1.06,14.045],[1.07,14.112],[1.025,13.906],[1.014,13.955],
];

const ngc2287: Pt[] = [
  [1.269,6.793],[-0.078,7.865],[-0.041,8.367],[0.03,8.24],[-0.026,8.802],[-0.041,8.93],[-0.03,8.975],[-0.005,9.064],[-0.011,9.147],[-0.026,9.139],[-0.005,9.237],[-0.011,9.267],[0.011,9.387],[0.026,9.139],[-0.072,9.424],[-0.06,9.349],[-0.045,9.387],[-0.044,9.762],[-0.026,9.642],[-0.023,9.814],[-0.035,10.002],[0.087,9.814],
  [-0.011,10.324],[0.0,10.271],[0.008,10.376],[0.011,10.301],[0.026,10.264],[0.038,10.249],[0.05,10.466],[0.053,10.564],[0.026,10.639],[0.041,10.736],[0.056,10.789],[0.083,10.901],[0.098,10.691],[0.105,10.789],[0.098,10.976],[0.105,11.029],[0.113,11.051],[0.121,11.089],[0.128,11.014],[0.14,10.924],[0.143,11.239],[0.151,11.261],[0.158,11.051],[0.166,11.111],[0.173,11.014],[0.181,11.126],[0.188,11.111],[0.196,11.328],[0.211,11.328],[0.226,11.441],[0.234,11.276],[0.261,11.411],[0.264,11.501],[0.294,11.486],[0.294,11.598],[0.309,11.576],[0.314,10.414],[0.318,10.766],[0.179,10.579],[0.217,10.624],[0.353,11.613],[0.369,11.711],[0.384,11.711],[0.392,11.801],[0.4,11.876],[0.415,11.838],[0.43,11.876],[0.46,11.913],[0.46,12.048],[0.425,11.126],[0.514,11.261],[0.547,11.816],[0.57,11.711],[0.505,12.1],[0.52,12.138],[0.528,12.175],[0.538,12.213],[0.55,12.19],[0.565,12.25],[0.573,12.31],[0.58,12.363],[0.596,12.4],
  [0.611,12.55],[0.626,12.588],[0.641,12.64],[0.656,12.7],[0.671,12.775],[0.686,12.888],[0.693,12.963],[0.709,13.037],[0.724,13.112],[0.739,13.262],[0.754,13.337],[0.769,13.412],[0.784,13.487],[0.799,13.562],[0.814,13.637],[0.829,13.712],[0.844,13.75],[0.859,13.825],[0.874,13.9],[0.889,13.975],[0.904,14.012],[0.92,14.05],[0.935,14.087],[0.957,14.162],[0.98,14.237],[1.003,14.274],[1.025,14.312],[1.048,14.349],[1.07,14.424],[1.093,14.499],[1.123,14.649],[1.146,14.799],[1.168,14.837],[1.191,14.874],[1.214,14.949],[1.236,15.024],[1.259,15.061],[1.289,15.136],[1.319,15.211],[1.342,15.286],[1.364,15.399],[1.387,15.436],[1.41,15.474],[1.432,15.511],[1.455,15.564],[1.477,15.624],[1.515,15.774],[1.545,15.849],[1.583,15.924],[1.606,15.909],[1.636,15.939],[1.666,15.984],[1.696,16.074],[1.719,16.149],[1.741,16.179],[1.764,16.261],
  [0.605,12.52],[0.615,12.6],[0.622,12.57],[0.63,12.62],[0.636,12.68],[0.645,12.66],[0.652,12.72],[0.66,12.76],[0.667,12.74],[0.676,12.83],[0.683,12.86],[0.69,12.91],[0.698,12.95],[0.705,13.0],[0.712,13.06],[0.72,13.08],[0.728,13.14],[0.735,13.2],[0.743,13.24],[0.75,13.3],[0.758,13.32],[0.765,13.38],[0.772,13.42],[0.78,13.45],[0.788,13.52],[0.795,13.55],[0.803,13.6],[0.81,13.62],[0.818,13.68],[0.826,13.7],[0.833,13.74],[0.84,13.78],[0.848,13.8],[0.855,13.84],[0.863,13.86],[0.87,13.88],[0.878,13.93],[0.885,13.95],[0.895,13.98],[0.91,14.03],[0.925,14.07],[0.94,14.1],[0.95,14.13],[0.962,14.17],[0.972,14.2],[0.985,14.24],[0.995,14.28],[1.01,14.3],[1.02,14.33],[1.035,14.36],[1.055,14.38],[1.065,14.4],[1.085,14.45],[1.1,14.5],[1.115,14.55],[1.14,14.68],[1.16,14.77],[1.18,14.84],[1.2,14.9],[1.22,14.98],[1.25,15.08],[1.27,15.12],[1.3,15.18],[1.33,15.3],[1.35,15.38],[1.37,15.42],[1.4,15.48],[1.42,15.5],[1.44,15.55],[1.47,15.6],[1.49,15.7],[1.53,15.8],[1.56,15.87],[1.59,15.92],[1.62,15.93],[1.65,15.97],[1.68,16.02],[1.71,16.1],[1.73,16.16],
  [0.638,12.1],[0.701,11.786],[0.769,12.475],[0.779,13.09],[0.901,13.577],[0.99,13.547],[1.104,13.96],[1.194,13.99],[1.18,14.184],[1.18,14.259],[1.194,14.574],[1.134,14.334],[1.244,14.349],[1.259,14.312],[1.274,14.334],[1.3,14.627],[1.319,14.334],[1.322,14.424],[1.375,15.061],[1.414,14.837],[1.435,14.799],[1.467,14.837],[1.482,14.874],[1.492,15.459],[1.535,15.009],[1.538,15.061],[1.515,15.909],[1.701,15.361],[1.726,15.511],
  [0.822,13.675],[0.837,13.787],[0.852,13.6],[0.889,13.75],[0.912,13.862],[0.942,13.975],[0.965,14.05],[0.995,14.124],[1.018,14.199],[1.033,14.124],[1.078,14.349],[1.108,14.387],[1.131,14.687],[1.153,14.724],[1.176,14.799],[1.206,14.837],[1.229,14.912],[1.244,14.949],[1.274,15.099],[1.305,15.174],[1.334,15.174],[1.357,15.324],[1.379,15.361],[1.402,15.436],[1.425,15.399],[1.447,15.474],[1.462,15.549],[1.508,15.699],[1.56,15.886],[1.613,15.999],[1.651,15.924],[1.681,16.036],[1.704,15.999],[1.749,16.227],
  [0.716,13.0],[0.731,13.187],[0.746,13.228],[0.761,13.3],[0.776,13.375],[0.791,13.487],[0.806,13.524],[0.704,12.888],[0.678,12.813],[0.663,12.715],[0.648,12.663],[0.633,12.61],[0.618,12.55],[0.603,12.46],[0.588,12.385],[0.565,12.325],
];

const clusters: Pt[][] = [ic2714, melotte71, ngc1245, ngc1817, ngc2099, ngc2287];

// ---------- layout / style ----------
const FONT_SANS = "'Liberation Sans', Arial, Helvetica, sans-serif";
const FONT_SERIF = "'Liberation Serif', 'Times New Roman', serif";
const FONT_LABEL = "'DejaVu Serif', 'Liberation Serif', serif";
const RED = "#ff2424";
const GRID_W = 487.7;
const GRID_H = 496.7;
const COL_LEFT = [79, 666.7];
const ROW_TOP = [11, 588.3, 1165.6];

function tickRange(a: number, b: number, s: number): number[] {
  const out: number[] = [];
  const start = Math.ceil(a / s - 1e-6);
  const end = Math.floor(b / s + 1e-6);
  for (let k = start; k <= end; k++) out.push(+(k * s).toFixed(4));
  return out;
}

function mathTitle(ox: number, oy: number, rot: number, pieces: { t: string; dx: number; dy: number; fs: number; it: boolean }[]) {
  return {
    type: "group",
    x: ox,
    y: oy,
    rotation: rot,
    silent: true,
    children: pieces.map((p) => ({
      type: "text",
      x: p.dx,
      y: p.dy,
      style: {
        text: p.t,
        fontSize: p.fs,
        fontFamily: FONT_SERIF,
        fontStyle: p.it ? "italic" : "normal",
        fill: "#000",
        textAlign: "left",
        align: "left",
        textVerticalAlign: "middle",
        verticalAlign: "middle",
      },
    })),
  };
}

function buildOption() {
  const grid: any[] = [];
  const xAxis: any[] = [];
  const yAxis: any[] = [];
  const series: any[] = [];
  const graphic: any[] = [];
  const tickLine = { color: "#2a2a2a", width: 1.2 };
  const circleStyle = { color: "rgba(255,255,255,0)", borderColor: "#000", borderWidth: 1.1 };

  clusters.forEach((data, i) => {
    const gl = COL_LEFT[i % 2];
    const gt = ROW_TOP[Math.floor(i / 2)];
    const x0 = xMin[i], x1 = xMax[i], y0 = yMin[i], y1 = yMax[i];
    const px = (v: number) => gl + ((v - x0) / (x1 - x0)) * GRID_W;
    const py = (v: number) => gt + ((v - y0) / (y1 - y0)) * GRID_H;

    grid.push({ left: gl, top: gt, width: GRID_W, height: GRID_H, show: true, borderColor: "#000", borderWidth: 2, backgroundColor: "transparent" });
    const mainG = grid.length - 1;
    const box = insetBoxes[i];
    grid.push({ left: px(box[0]), top: py(box[2]), width: px(box[1]) - px(box[0]), height: py(box[3]) - py(box[2]), show: false });
    const insG = grid.length - 1;

    const xMaj = xMajor[i];
    const xMin_ = tickRange(x0, x1, xMinorStep[i]);
    const yMaj = yMajor[i];
    const yMin_ = tickRange(y0, y1, yMinorStep[i]);

    const xb = { type: "value", gridIndex: mainG, min: x0, max: x1, splitLine: { show: false }, axisLine: { show: false, onZero: false } };
    const xIdx = xAxis.length;
    xAxis.push({ ...xb, position: "bottom", axisTick: { show: true, inside: true, length: 11, customValues: xMaj, lineStyle: tickLine }, axisLabel: { show: true, customValues: xMaj, margin: 8, fontSize: 16, color: "#000", fontFamily: FONT_SANS } });
    xAxis.push({ ...xb, position: "bottom", axisTick: { show: true, inside: true, length: 6, customValues: xMin_, lineStyle: tickLine }, axisLabel: { show: false } });
    xAxis.push({ ...xb, position: "top", axisTick: { show: true, inside: true, length: 11, customValues: xMaj, lineStyle: tickLine }, axisLabel: { show: false } });
    xAxis.push({ ...xb, position: "top", axisTick: { show: true, inside: true, length: 6, customValues: xMin_, lineStyle: tickLine }, axisLabel: { show: false } });
    xAxis.push({ type: "value", gridIndex: insG, min: zoomRects[i][0], max: zoomRects[i][1], show: false, splitLine: { show: false }, axisLine: { onZero: false } });

    const yb = { type: "value", gridIndex: mainG, min: y0, max: y1, inverse: true, splitLine: { show: false }, axisLine: { show: false, onZero: false } };
    const yIdx = yAxis.length;
    yAxis.push({ ...yb, position: "left", axisTick: { show: true, inside: true, length: 11, customValues: yMaj, lineStyle: tickLine }, axisLabel: { show: true, customValues: yMaj, margin: 10, fontSize: 16, color: "#000", fontFamily: FONT_SANS } });
    yAxis.push({ ...yb, position: "left", axisTick: { show: true, inside: true, length: 6, customValues: yMin_, lineStyle: tickLine }, axisLabel: { show: false } });
    yAxis.push({ ...yb, position: "right", axisTick: { show: true, inside: true, length: 11, customValues: yMaj, lineStyle: tickLine }, axisLabel: { show: false } });
    yAxis.push({ ...yb, position: "right", axisTick: { show: true, inside: true, length: 6, customValues: yMin_, lineStyle: tickLine }, axisLabel: { show: false } });
    yAxis.push({ type: "value", gridIndex: insG, min: zoomRects[i][2], max: zoomRects[i][3], inverse: true, show: false, splitLine: { show: false }, axisLine: { onZero: false } });

    const r = zoomRects[i];
    series.push({ type: "line", xAxisIndex: xIdx, yAxisIndex: yIdx, data: [[r[0], r[2]], [r[1], r[2]], [r[1], r[3]], [r[0], r[3]], [r[0], r[2]]], symbol: "none", lineStyle: { color: "#c9c9c9", width: 1.3 }, silent: true, z: 1, clip: false });
    series.push({ type: "line", xAxisIndex: xIdx, yAxisIndex: yIdx, data: [[r[1], r[2]], [box[0], box[2]]], symbol: "none", lineStyle: { color: "#cccccc", width: 1.2, type: [8, 5] }, silent: true, z: 1, clip: false });
    series.push({ type: "line", xAxisIndex: xIdx, yAxisIndex: yIdx, data: [[r[1], r[3]], [box[0], box[3]]], symbol: "none", lineStyle: { color: "#cccccc", width: 1.2, type: [8, 5] }, silent: true, z: 1, clip: false });
    series.push({ type: "line", xAxisIndex: xIdx, yAxisIndex: yIdx, data: [[box[0], box[2]], [box[1], box[2]], [box[1], box[3]], [box[0], box[3]], [box[0], box[2]]], symbol: "none", lineStyle: { color: "#8c8c8c", width: 2 }, silent: true, z: 6, clip: false });

    series.push({ type: "scatter", xAxisIndex: xIdx, yAxisIndex: yIdx, data, symbol: "circle", symbolSize: 5.2, itemStyle: circleStyle, clip: true, silent: true, z: 3 });
    const inside = data.filter((p) => p[0] >= r[0] && p[0] <= r[1] && p[1] >= r[2] && p[1] <= r[3]);
    series.push({ type: "scatter", xAxisIndex: xIdx + 4, yAxisIndex: yIdx + 4, data: inside, symbol: "circle", symbolSize: 5.8, itemStyle: circleStyle, clip: true, silent: true, z: 5 });

    const errData = errMags[i].map((m, k) => [errColorPos[i], m, errColor[i][k], errMagHalf[i]]);
    series.push({
      type: "custom", xAxisIndex: xIdx, yAxisIndex: yIdx, data: errData, silent: true, z: 4, clip: false,
      renderItem: (_params: any, api: any) => {
        const x = api.value(0), y = api.value(1), ex = api.value(2), ey = api.value(3);
        const a = api.coord([x - ex, y]), b = api.coord([x + ex, y]);
        const c = api.coord([x, y - ey]), d = api.coord([x, y + ey]);
        return {
          type: "group",
          children: [
            { type: "line", shape: { x1: a[0], y1: a[1], x2: b[0], y2: b[1] }, style: { stroke: RED, lineWidth: 1.2 } },
            { type: "line", shape: { x1: c[0], y1: c[1], x2: d[0], y2: d[1] }, style: { stroke: RED, lineWidth: 1.2 } },
          ],
        };
      },
    });

    graphic.push({
      type: "text", x: gl + 30, y: gt + GRID_H - 48.7, silent: true, z: 10,
      style: { text: clusterNames[i], fontSize: 32, fontFamily: FONT_LABEL, fill: RED, textAlign: "left", align: "left", textVerticalAlign: "middle", verticalAlign: "middle" },
    });
    graphic.push(mathTitle(gl + GRID_W / 2, gt + GRID_H + 47, 0, [
      { t: "G", dx: -60, dy: -9.2, fs: 27, it: true },
      { t: "BP", dx: -37, dy: 4.2, fs: 17, it: false },
      { t: "\u2212", dx: -8, dy: -10, fs: 27, it: false },
      { t: "G", dx: 10, dy: -9.2, fs: 27, it: true },
      { t: "RP", dx: 32, dy: 4.2, fs: 17, it: false },
    ]));
    graphic.push(mathTitle(gl - 38, gt + GRID_H / 2, Math.PI / 2, [
      { t: "G", dx: -27, dy: -12, fs: 35, it: true },
      { t: "RP", dx: 0, dy: 4.5, fs: 19, it: false },
    ]));
  });

  return {
    animation: false,
    backgroundColor: "#ffffff",
    textStyle: { fontFamily: FONT_SANS },
    grid,
    xAxis,
    yAxis,
    series,
    graphic,
  };
}

export default function App() {
  const ref = useRef<HTMLDivElement>(null);
  useEffect(() => {
    if (!ref.current) return;
    const chart = echarts.init(ref.current, null, { renderer: "svg" });
    chart.setOption(buildOption() as any);
    return () => {
      chart.dispose();
    };
  }, []);
  return (
    <div
      ref={ref}
      style={{ position: "absolute", left: 0, top: 0, width: 1150, height: 1724, background: "#fff" }}
    />
  );
}
